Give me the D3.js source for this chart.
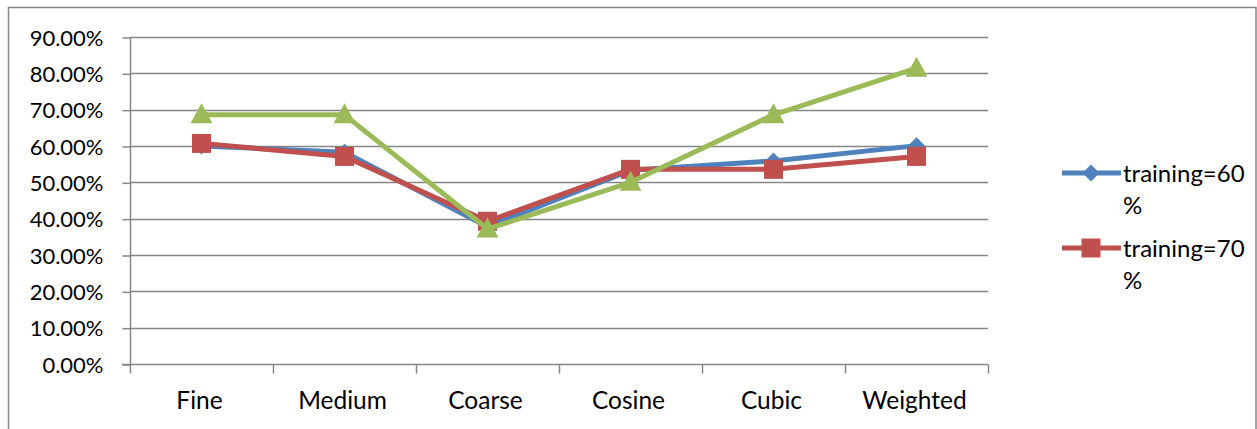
<!DOCTYPE html>
<html>
<head>
<meta charset="utf-8">
<script src="https://cdn.jsdelivr.net/npm/d3@7"></script>
<style>
  html, body { margin: 0; padding: 0; background: #fff; }
  svg { display: block; }
  text { font-family: Lato, "Open Sans", sans-serif; fill: #000; }
</style>
</head>
<body>
<svg id="chart" width="1257" height="429"></svg>
<script>
// Classifier accuracy per KNN variant and training split
const categories = ["Fine", "Medium", "Coarse", "Cosine", "Cubic", "Weighted"];
const training60 = [0.600, 0.583, 0.378, 0.533, 0.559, 0.601];
const training70 = [0.6071, 0.5714, 0.3929, 0.5357, 0.5357, 0.5714];
const training80 = [0.6857, 0.6857, 0.3714, 0.5000, 0.6857, 0.8143];
const yTicks = [0, 0.1, 0.2, 0.3, 0.4, 0.5, 0.6, 0.7, 0.8, 0.9];
const legendLabels = [["training=60", "%"], ["training=70", "%"]];

const series = [
  { name: "training=60%", values: training60, color: "#4F81BD", marker: "diamond" },
  { name: "training=70%", values: training70, color: "#C0504D", marker: "square" },
  { name: "training=80%", values: training80, color: "#9BBB59", marker: "triangle" }
];

const svg = d3.select("#chart");
const W = 1257, H = 429;
const plot = { left: 130, right: 988, top: 37, bottom: 364 };

// Outer chart frame
svg.append("rect")
  .attr("x", 8.5).attr("y", 7.5)
  .attr("width", W - 9.5).attr("height", H + 10)
  .attr("fill", "none").attr("stroke", "#868686").attr("stroke-width", 1.5);

const x = d3.scaleBand().domain(categories).range([plot.left, plot.right]);
const y = d3.scaleLinear().domain([0, 0.9]).range([plot.bottom, plot.top]);

// Horizontal gridlines
svg.append("g")
  .selectAll("line")
  .data(yTicks.slice(1))
  .join("line")
  .attr("x1", plot.left).attr("x2", plot.right)
  .attr("y1", d => Math.round(y(d)) + 0.5).attr("y2", d => Math.round(y(d)) + 0.5)
  .attr("stroke", "#868686").attr("stroke-width", 1.5);

// Y axis
const yAxis = d3.axisLeft(y)
  .tickValues(yTicks)
  .tickFormat(d3.format(".2%"))
  .tickSize(8)
  .tickPadding(19);
const gy = svg.append("g")
  .attr("transform", `translate(${plot.left + 0.5},0.5)`)
  .call(yAxis);
gy.select(".domain").attr("stroke", "#868686").attr("stroke-width", 1.5)
  .attr("d", `M0,${plot.top - 0.5}V${plot.bottom}`);
gy.selectAll(".tick line").attr("stroke", "#868686").attr("stroke-width", 1.5);
gy.selectAll(".tick text")
  .style("font-family", "Lato, sans-serif")
  .attr("font-size", 22).attr("fill", "#000").attr("dy", "0.35em");

// X axis with ticks between categories
const xBoundaries = categories.map((c, i) => i === 0 ? null : x(c)).filter(v => v !== null);
const gx = svg.append("g").attr("transform", `translate(0,${Math.round(plot.bottom) + 0.5})`);
gx.append("line")
  .attr("x1", plot.left - 8).attr("x2", plot.right)
  .attr("stroke", "#868686").attr("stroke-width", 1.5);
gx.selectAll("line.tk")
  .data([plot.left, ...xBoundaries, plot.right])
  .join("line").attr("class", "tk")
  .attr("x1", d => Math.round(d) + 0.5).attr("x2", d => Math.round(d) + 0.5)
  .attr("y1", 0).attr("y2", 9)
  .attr("stroke", "#868686").attr("stroke-width", 1.5);
gx.selectAll("text")
  .data(categories)
  .join("text")
  .attr("x", d => x(d) + x.bandwidth() / 2 - 2)
  .attr("y", 44)
  .attr("text-anchor", "middle")
  .attr("font-size", 24.5)
  .text(d => d);

// Marker shapes
function markerPath(kind) {
  if (kind === "diamond") return "M0,-8.5L8.5,0L0,8.5L-8.5,0Z";
  if (kind === "square") return "M-9.5,-9.5H9.5V9.5H-9.5Z";
  return "M0,-11.5L11,8.5L-11,8.5Z";
}

const line = d3.line()
  .x((d, i) => x(categories[i]) + x.bandwidth() / 2)
  .y(d => y(d));

const gSeries = svg.append("g");
series.forEach(s => {
  const g = gSeries.append("g");
  g.append("path")
    .attr("d", line(s.values))
    .attr("fill", "none")
    .attr("stroke", s.color)
    .attr("stroke-width", 5)
    .attr("stroke-linejoin", "round");
  g.selectAll("path.mk")
    .data(s.values)
    .join("path").attr("class", "mk")
    .attr("transform", (d, i) => `translate(${x(categories[i]) + x.bandwidth() / 2},${y(d)})`)
    .attr("d", markerPath(s.marker))
    .attr("fill", s.color);
});

// Legend
const legend = svg.append("g");
const legendY = [173, 248];
series.slice(0, 2).forEach((s, i) => {
  const g = legend.append("g").attr("transform", `translate(0,${legendY[i]})`);
  g.append("line")
    .attr("x1", 1062).attr("x2", 1121)
    .attr("stroke", s.color).attr("stroke-width", 5);
  g.append("path")
    .attr("transform", "translate(1091,0)")
    .attr("d", markerPath(s.marker))
    .attr("fill", s.color);
  const t = g.append("text").attr("x", 1123).attr("y", 9).attr("font-size", 24);
  legendLabels[i].forEach((part, j) => {
    t.append("tspan").attr("x", 1123).attr("dy", j === 0 ? 0 : 32).text(part);
  });
});
</script>
</body>
</html>
